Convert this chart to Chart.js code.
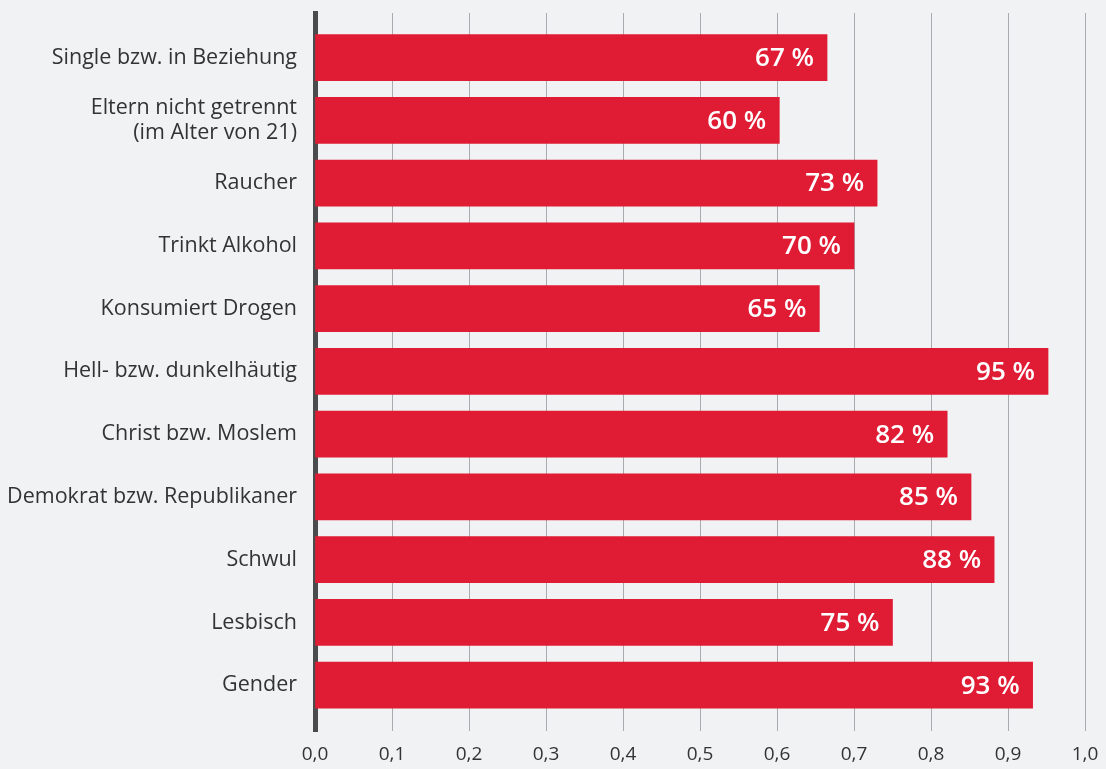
<!DOCTYPE html>
<html>
<head>
<meta charset="utf-8">
<script src="https://cdn.jsdelivr.net/npm/chart.js@4.4.1/dist/chart.umd.min.js"></script>
<style>
  html, body { margin: 0; padding: 0; background: #f1f2f4; }
  #wrap { width: 1106px; height: 769px; }
</style>
</head>
<body>
<div id="wrap"><canvas id="chart" width="1106" height="769"></canvas></div>
<script>
const categories = [
  ['Single bzw. in Beziehung'],
  ['Eltern nicht getrennt', '(im Alter von 21)'],
  ['Raucher'],
  ['Trinkt Alkohol'],
  ['Konsumiert Drogen'],
  ['Hell- bzw. dunkelhäutig'],
  ['Christ bzw. Moslem'],
  ['Demokrat bzw. Republikaner'],
  ['Schwul'],
  ['Lesbisch'],
  ['Gender']
];
const values = [0.665, 0.603, 0.73, 0.70, 0.655, 0.952, 0.821, 0.852, 0.882, 0.75, 0.932];
const valueLabels = ['67 %', '60 %', '73 %', '70 %', '65 %', '95 %', '82 %', '85 %', '88 %', '75 %', '93 %'];
const xTicks = [0, 0.1, 0.2, 0.3, 0.4, 0.5, 0.6, 0.7, 0.8, 0.9, 1.0];

const FONT = "'Open Sans', 'Noto Sans', sans-serif";

// white percentage text at the end of each bar
const barLabels = {
  id: 'barLabels',
  afterDatasetsDraw(chart) {
    const ctx = chart.ctx;
    const meta = chart.getDatasetMeta(0);
    ctx.save();
    ctx.fillStyle = '#ffffff';
    ctx.font = '600 26px ' + FONT;
    ctx.textAlign = 'right';
    ctx.textBaseline = 'middle';
    meta.data.forEach((bar, i) => {
      ctx.fillText(valueLabels[i], bar.x - 13, bar.y + 1);
    });
    ctx.restore();
  }
};

new Chart(document.getElementById('chart'), {
  type: 'bar',
  data: {
    datasets: [{
      data: values.map((v, i) => ({ x: v, y: i })),
      backgroundColor: '#e01c35',
      borderWidth: 0,
      barThickness: 46
    }]
  },
  options: {
    indexAxis: 'y',
    responsive: false,
    animation: false,
    layout: { padding: { top: 13, right: 21, left: 0, bottom: 0 } },
    plugins: { legend: { display: false }, tooltip: { enabled: false } },
    scales: {
      x: {
        type: 'linear',
        min: 0,
        max: 1,
        afterBuildTicks: s => { s.ticks = xTicks.map(v => ({ value: v })); },
        afterFit: s => { s.height = 38; s.paddingLeft = 0; s.paddingRight = 0; },
        grid: { color: '#a9abae', lineWidth: 1, drawTicks: false },
        border: { display: false },
        ticks: {
          color: '#333333',
          padding: 12,
          font: { family: FONT, size: 19 },
          callback: v => v.toFixed(1).replace('.', ',')
        }
      },
      y: {
        type: 'linear',
        reverse: true,
        offset: false,
        min: -0.71,
        max: 10.73,
        afterBuildTicks: s => { s.ticks = categories.map((c, i) => ({ value: i })); },
        afterFit: s => { s.width = 315; s.paddingTop = 0; s.paddingBottom = 0; },
        grid: { display: false, drawTicks: false },
        border: { display: true, color: '#4a4b4d', width: 5 },
        ticks: {
          color: '#333333',
          padding: 18,
          font: { family: FONT, size: 21.5, lineHeight: 1.2 },
          callback: v => categories[v]
        }
      }
    }
  },
  plugins: [barLabels]
});
</script>
</body>
</html>
